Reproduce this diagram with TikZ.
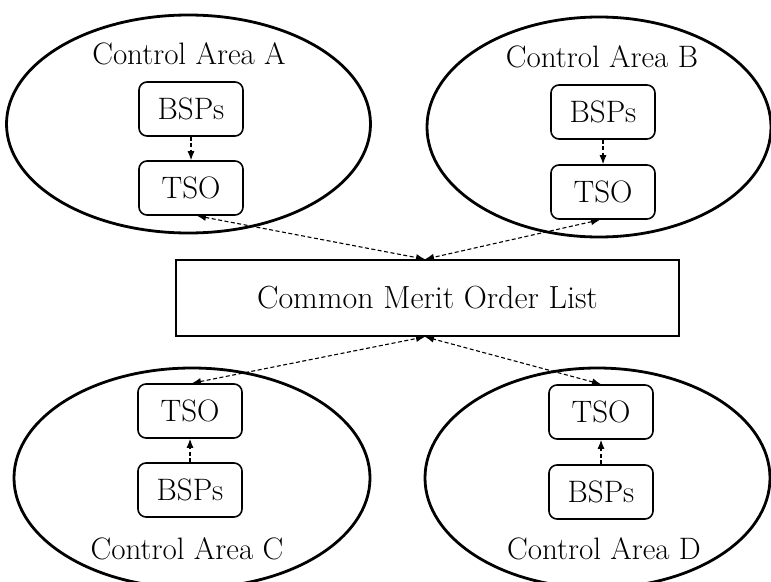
\documentclass[tikz,border=0pt]{standalone}
\usetikzlibrary{arrows.meta}
\begin{document}
\begin{tikzpicture}[x=1pt,y=-1pt,
  area/.style={draw, line width=2.8pt},
  unitbox/.style={draw, line width=1.6pt, rounded corners=8pt, minimum width=104pt, minimum height=54pt, inner sep=0pt, font=\fontsize{31}{35}\selectfont},
  label/.style={inner sep=0pt, font=\fontsize{31}{35}\selectfont},
  link/.style={dashed, line width=1.1pt, dash pattern=on 4pt off 2.5pt},
  bothway/.style={link, {Latex[length=9pt,width=7pt]}-{Latex[length=9pt,width=7pt]}},
  oneway/.style={link, -{Latex[length=9pt,width=7pt]}},
  font=\fontsize{32}{36}\selectfont]
\useasboundingbox (0,0) rectangle (771,581);
\clip (0,0) rectangle (771,581);

% control areas
\draw[area] (188.5,124) ellipse [x radius=182, y radius=109];
\draw[area] (599,127) ellipse [x radius=172, y radius=110];
\draw[area] (192,478) ellipse [x radius=178, y radius=110];
\draw[area] (597.5,478) ellipse [x radius=172.5, y radius=110];

\node[label] (la) at (189,54) {Control Area A};
\node[label] (lb) at (602,57) {Control Area B};
\node[label] (lc) at (187,549) {Control Area C};
\node[label] (ld) at (604,549) {Control Area D};

% participants and system operators
\node[unitbox] (ba) at (191,109) {BSPs};
\node[unitbox] (ta) at (191,188) {TSO};
\node[unitbox] (bb) at (603,112) {BSPs};
\node[unitbox] (tb) at (603,192) {TSO};
\node[unitbox] (tc) at (190,411) {TSO};
\node[unitbox] (bc) at (190,490) {BSPs};
\node[unitbox] (td) at (601,412) {TSO};
\node[unitbox] (bd) at (601,492) {BSPs};

% shared list
\node[draw, line width=1.6pt, minimum width=503pt, minimum height=76pt, inner sep=0pt] (mol) at (427.5,298) {Common Merit Order List};
\coordinate (mtop) at ([xshift=-2.5pt]mol.north);
\coordinate (mbot) at ([xshift=-2.5pt]mol.south);

% exchanges
\draw[oneway] (ba) -- (ta);
\draw[oneway] (bb) -- (tb);
\draw[oneway] (bc) -- (tc);
\draw[oneway] (bd) -- (td);
\draw[bothway] ([xshift=6pt]ta.south) -- (mtop);
\draw[bothway] ([xshift=-3pt]tb.south) -- (mtop);
\draw[bothway] ([xshift=2pt]tc.north) -- (mbot);
\draw[bothway] ([xshift=0pt]td.north) -- (mbot);
\end{tikzpicture}
\end{document}
